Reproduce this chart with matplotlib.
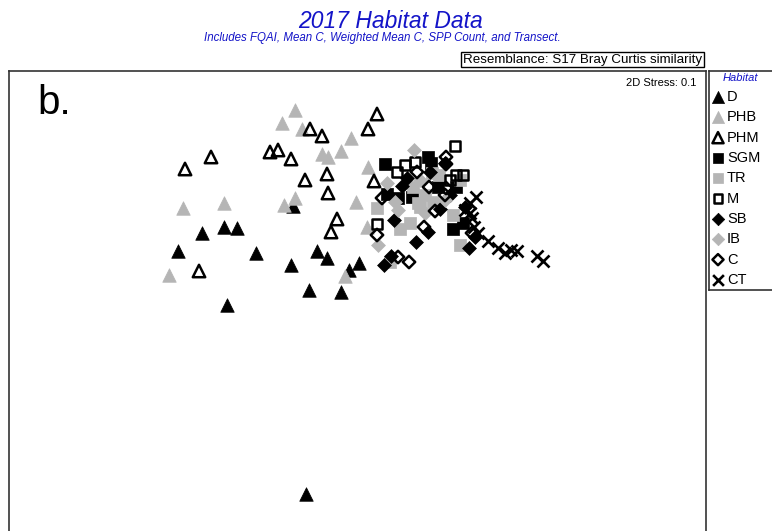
import matplotlib.pyplot as plt
import numpy as np

plt.rcParams['font.family'] = ['Liberation Sans', 'DejaVu Sans']

# nMDS ordination coordinates per habitat group
d_x = [-1.78, -1.56, -1.43, -2.02, -1.24, -1.53, -0.87, -0.63, -0.53, -0.89, -0.21, -0.31, -0.71, -0.39, -0.74]
d_y = [0.47, 0.53, 0.52, 0.29, 0.27, -0.25, 0.74, 0.29, 0.22, 0.15, 0.17, 0.10, -0.10, -0.12, -2.14]

phb_x = [-0.85, -0.98, -0.78, -0.29, -0.39, -0.58, -0.52, -0.12, -1.97, -1.56, -0.85, -0.96, -0.24, -2.11, -0.35, -0.13]
phb_y = [1.70, 1.57, 1.51, 1.42, 1.29, 1.26, 1.23, 1.13, 0.72, 0.77, 0.82, 0.75, 0.78, 0.05, 0.04, 0.53]

phm_x = [-1.95, -1.69, -1.10, -1.02, -0.89, -0.70, -0.58, -0.03, -0.12, -0.53, -0.75, -0.52, -0.06, -0.43, -0.49, -1.81]
phm_y = [1.11, 1.23, 1.28, 1.30, 1.21, 1.51, 1.44, 1.66, 1.51, 1.06, 1.00, 0.87, 0.99, 0.61, 0.48, 0.09]

sgm_x = [0.05, 0.48, 0.58, 0.76, 0.07, 0.18, 0.32, 0.73, 0.83, 0.51]
sgm_y = [1.16, 1.23, 0.93, 0.93, 0.86, 0.82, 0.83, 0.51, 0.57, 1.17]

tr_x = [0.52, 0.59, 0.33, 0.53, -0.03, 0.40, 0.73, 0.30, 0.20, 0.80, 0.10, 0.38, 0.80, 0.45]
tr_y = [1.07, 1.05, 0.93, 0.78, 0.72, 0.73, 0.65, 0.57, 0.51, 0.35, 0.18, 0.77, 1.00, 0.85]

m_x = [0.75, 0.25, 0.35, 0.17, 0.76, 0.83, 0.70, -0.03]
m_y = [1.34, 1.15, 1.18, 1.08, 1.05, 1.05, 1.00, 0.56]

sb_x = [0.65, 0.50, 0.27, 0.22, 0.60, 0.85, 0.14, 0.48, 0.36, 0.95, 0.89, 0.11, 0.04, 0.70]
sb_y = [1.17, 1.08, 1.02, 0.94, 0.71, 0.73, 0.60, 0.48, 0.38, 0.43, 0.32, 0.24, 0.15, 0.85]

ib_x = [0.34, 0.07, 0.18, 0.45, -0.02, 0.15, 0.40, 0.65]
ib_y = [1.30, 0.97, 0.70, 0.67, 0.35, 0.78, 1.00, 0.80]

c_x = [0.66, 0.37, 0.49, 0.66, 0.02, 0.65, 0.55, 0.44, 0.92, -0.03, 0.18, 0.29, 0.66]
c_y = [1.23, 1.08, 0.93, 0.92, 0.82, 0.85, 0.69, 0.53, 0.47, 0.45, 0.23, 0.18, 1.16]

ct_x = [0.96, 0.90, 0.85, 0.92, 0.94, 0.98, 1.08, 1.18, 1.25, 1.31, 1.37, 1.57, 1.63, 0.90]
ct_y = [0.83, 0.77, 0.70, 0.62, 0.53, 0.47, 0.39, 0.32, 0.27, 0.30, 0.29, 0.24, 0.19, 0.67]

labels = ['D', 'PHB', 'PHM', 'SGM', 'TR', 'M', 'SB', 'IB', 'C', 'CT']
xs = [d_x, phb_x, phm_x, sgm_x, tr_x, m_x, sb_x, ib_x, c_x, ct_x]
ys = [d_y, phb_y, phm_y, sgm_y, tr_y, m_y, sb_y, ib_y, c_y, ct_y]

grey = '#b5b5b5'
blue = '#1414c8'
# marker, size, facecolor, edgecolor, linewidth
styles = {
    'D':   ('^', 95, 'black', 'black', 0.5),
    'PHB': ('^', 95, grey, grey, 0.5),
    'PHM': ('^', 80, 'none', 'black', 1.8),
    'SGM': ('s', 65, 'black', 'black', 0.5),
    'TR':  ('s', 65, grey, grey, 0.5),
    'M':   ('s', 52, 'none', 'black', 1.8),
    'SB':  ('D', 50, 'black', 'black', 0.5),
    'IB':  ('D', 50, grey, grey, 0.5),
    'C':   ('D', 40, 'none', 'black', 1.8),
    'CT':  ('x', 75, 'black', 'black', 1.9),
}

W, H = 772, 531
fig = plt.figure(figsize=(W / 100, H / 100), dpi=100)


def fx(px):
    return px / W


def fy(py):
    return 1 - py / H


ax = fig.add_axes([fx(9), 0, (706 - 9) / W, (531 - 71) / H])
for lab, x, y in zip(labels, xs, ys):
    mk, s, fc, ec, lw = styles[lab]
    if mk == 'x':
        ax.scatter(x, y, marker=mk, s=s, c=ec, linewidths=lw, zorder=3)
    else:
        ax.scatter(x, y, marker=mk, s=s, facecolors=fc, edgecolors=ec,
                   linewidths=lw, zorder=3)
ax.set_xlim(-3.71, 3.26)
ax.set_ylim(-2.51, 2.09)
ax.set_xticks([])
ax.set_yticks([])
ax.spines['bottom'].set_visible(False)
for sp in ['top', 'left', 'right']:
    ax.spines[sp].set_color('#333333')
    ax.spines[sp].set_linewidth(1.2)

# legend panel on the right
lax = fig.add_axes([fx(709), fy(290), (800 - 709) / W, (290 - 71) / H])
lax.set_xlim(0, 91)
lax.set_ylim(219, 0)
lax.set_xticks([])
lax.set_yticks([])
for sp in lax.spines.values():
    sp.set_color('#333333')
    sp.set_linewidth(1.2)
lax.text(31, 7, 'Habitat', ha='center', va='center', fontsize=8,
         style='italic', color=blue)
for i, lab in enumerate(labels):
    mk, s, fc, ec, lw = styles[lab]
    yy = 26 + i * 20.33
    if mk == 'x':
        lax.scatter([9], [yy], marker=mk, s=s * 0.8, c=ec, linewidths=lw)
    else:
        lax.scatter([9], [yy], marker=mk, s=s * 0.8, facecolors=fc, edgecolors=ec,
                    linewidths=lw)
    lax.text(18, yy, lab, ha='left', va='center', fontsize=10.5)

fig.text(fx(391), fy(22), '2017 Habitat Data', ha='center', va='center',
         fontsize=16.5, style='italic', color=blue)
fig.text(fx(382), fy(38), 'Includes FQAI, Mean C, Weighted Mean C, SPP Count, and Transect.',
         ha='center', va='center', fontsize=8.3, style='italic', color=blue)
fig.text(fx(463), fy(59.5), 'Resemblance: S17 Bray Curtis similarity',
         ha='left', va='center', fontsize=9.6,
         bbox=dict(boxstyle='square,pad=0.12', fc='white', ec='black', lw=1))
fig.text(fx(696), fy(83), '2D Stress: 0.1', ha='right', va='center', fontsize=8)
fig.text(fx(37), fy(103), 'b.', ha='left', va='center', fontsize=29)

fig.savefig('out.png', dpi=100)
